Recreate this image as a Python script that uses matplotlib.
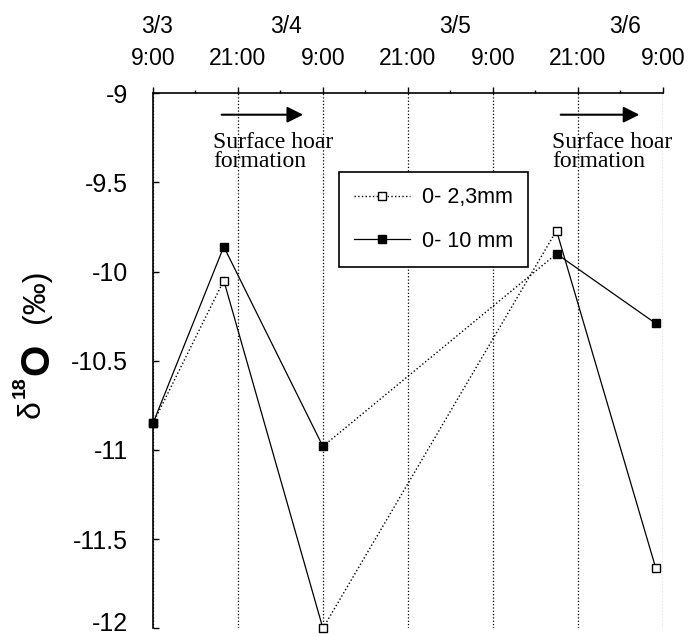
import numpy as np
import matplotlib.pyplot as plt
from matplotlib.lines import Line2D
from matplotlib.transforms import ScaledTranslation
from matplotlib.ticker import MultipleLocator, FuncFormatter

plt.rcParams['font.family'] = ['Liberation Sans', 'DejaVu Sans']
plt.rcParams['axes.unicode_minus'] = False

# hours after 3/3 9:00
hours = [0, 10, 24, 57, 71]
d18o_2mm = [-10.85, -10.05, -12.0, -9.77, -11.66]
d18o_10mm = [-10.85, -9.86, -10.98, -9.90, -10.29]
labels = ['0- 2,3mm', '0- 10 mm']
# line style of each segment between consecutive samples
seg_2mm = [':', '-', ':', '-']
seg_10mm = ['-', '-', ':', '-']

tick_hours = [0, 12, 24, 36, 48, 60, 72]
tick_labels = ['9:00', '21:00', '9:00', '21:00', '9:00', '21:00', '9:00']
date_labels = ['3/3', '3/4', '3/5', '3/6']
date_pos = [0.5, 18.8, 42.6, 66.7]

# surface hoar arrows (start, end in hours)
hoar_arrows = [(9.3, 21.6), (57.2, 69.1)]
hoar_text_x = [8.5, 56.4]

fig = plt.figure(figsize=(6.88, 6.36), dpi=100)
ax = fig.add_axes([153/688, 1-628.3/636, (662.7-153)/688, (628.3-93.3)/636])

for yv, segs in [(d18o_2mm, seg_2mm), (d18o_10mm, seg_10mm)]:
    for i, ls in enumerate(segs):
        ax.plot(hours[i:i+2], yv[i:i+2], ls=ls, lw=1.0 if ls == ':' else 0.9,
                color='k', zorder=2)

ax.plot(hours, d18o_2mm, ls='none', marker='s', ms=5.5, mfc='white', mec='k',
        mew=1.0, clip_on=False, zorder=3)
ax.plot(hours, d18o_10mm, ls='none', marker='s', ms=6, mfc='k', mec='k',
        clip_on=False, zorder=3)

ax.set_xlim(0, 72)
ax.set_ylim(-12, -9)
ax.xaxis.tick_top()
ax.set_xticks(tick_hours)
ax.set_xticklabels(tick_labels, fontsize=16.5)
ax.xaxis.set_minor_locator(MultipleLocator(6))
ax.tick_params(axis='x', which='major', direction='out', length=4, width=1, pad=13)
ax.tick_params(axis='x', which='minor', direction='out', length=2, width=1)
ax.yaxis.set_major_locator(MultipleLocator(0.5))
ax.yaxis.set_major_formatter(FuncFormatter(lambda v, p: '%g' % v))
ax.tick_params(axis='y', direction='in', length=4, width=1, pad=18, labelsize=18)

for s in ['right', 'bottom']:
    ax.spines[s].set_visible(False)
for s in ['left', 'top']:
    ax.spines[s].set_linewidth(1.2)

ax.grid(axis='x', which='major', ls=':', color='k', lw=0.9)

tr = ax.get_xaxis_transform()
for d, xp in zip(date_labels, date_pos):
    ax.text(xp, 1.124, d, transform=tr, ha='center', va='center', fontsize=16.5)

for (x0, x1), tx in zip(hoar_arrows, hoar_text_x):
    ax.annotate('', xy=(x1, -9.12), xytext=(x0, -9.12),
                arrowprops=dict(arrowstyle='-|>', color='k', lw=1.5, mutation_scale=24))
    ax.text(tx, -9.33, 'Surface hoar\nformation', ha='left', va='center',
            family='Liberation Serif', fontsize=17, linespacing=0.85)

handles = [Line2D([], [], ls=':', lw=1.0, color='k', marker='s', ms=5.5, mfc='white',
                  mec='k', mew=1.0),
           Line2D([], [], ls='-', lw=0.9, color='k', marker='s', ms=6, mfc='k', mec='k')]
leg = ax.legend(handles, labels, loc='upper left', bbox_to_anchor=(339/688, 1-172/636),
                bbox_transform=fig.transFigure, fontsize=15.5, frameon=True,
                fancybox=False, edgecolor='k', framealpha=1, borderaxespad=0,
                borderpad=0.7, handlelength=2.6, handletextpad=0.56, labelspacing=1.05)
leg.get_frame().set_linewidth(1.2)

# y label: delta 18 O (permil)
fig.text(32/688, 1-409/636, '\u03b4', rotation=90, ha='center', va='center', fontsize=23)
fig.text(20/688, 1-387/636, '18', rotation=90, ha='center', va='center', fontsize=14,
         fontweight='bold')
fig.text(37/688, 1-359/636, 'O', rotation=90, ha='center', va='center', fontsize=29,
         fontweight='bold')
fig.text(36/688, 1-296/636, '(\u2030)', rotation=90, ha='center', va='center', fontsize=23)

# lift the bottom y tick label (-12) so it stays inside the figure
fig.canvas.draw()
for t in ax.yaxis.get_major_ticks():
    if abs(t.get_loc() + 12) < 1e-6:
        t.label1.set_transform(t.label1.get_transform()
                               + ScaledTranslation(0, 5/72, fig.dpi_scale_trans))

fig.savefig('out.png', dpi=100)
